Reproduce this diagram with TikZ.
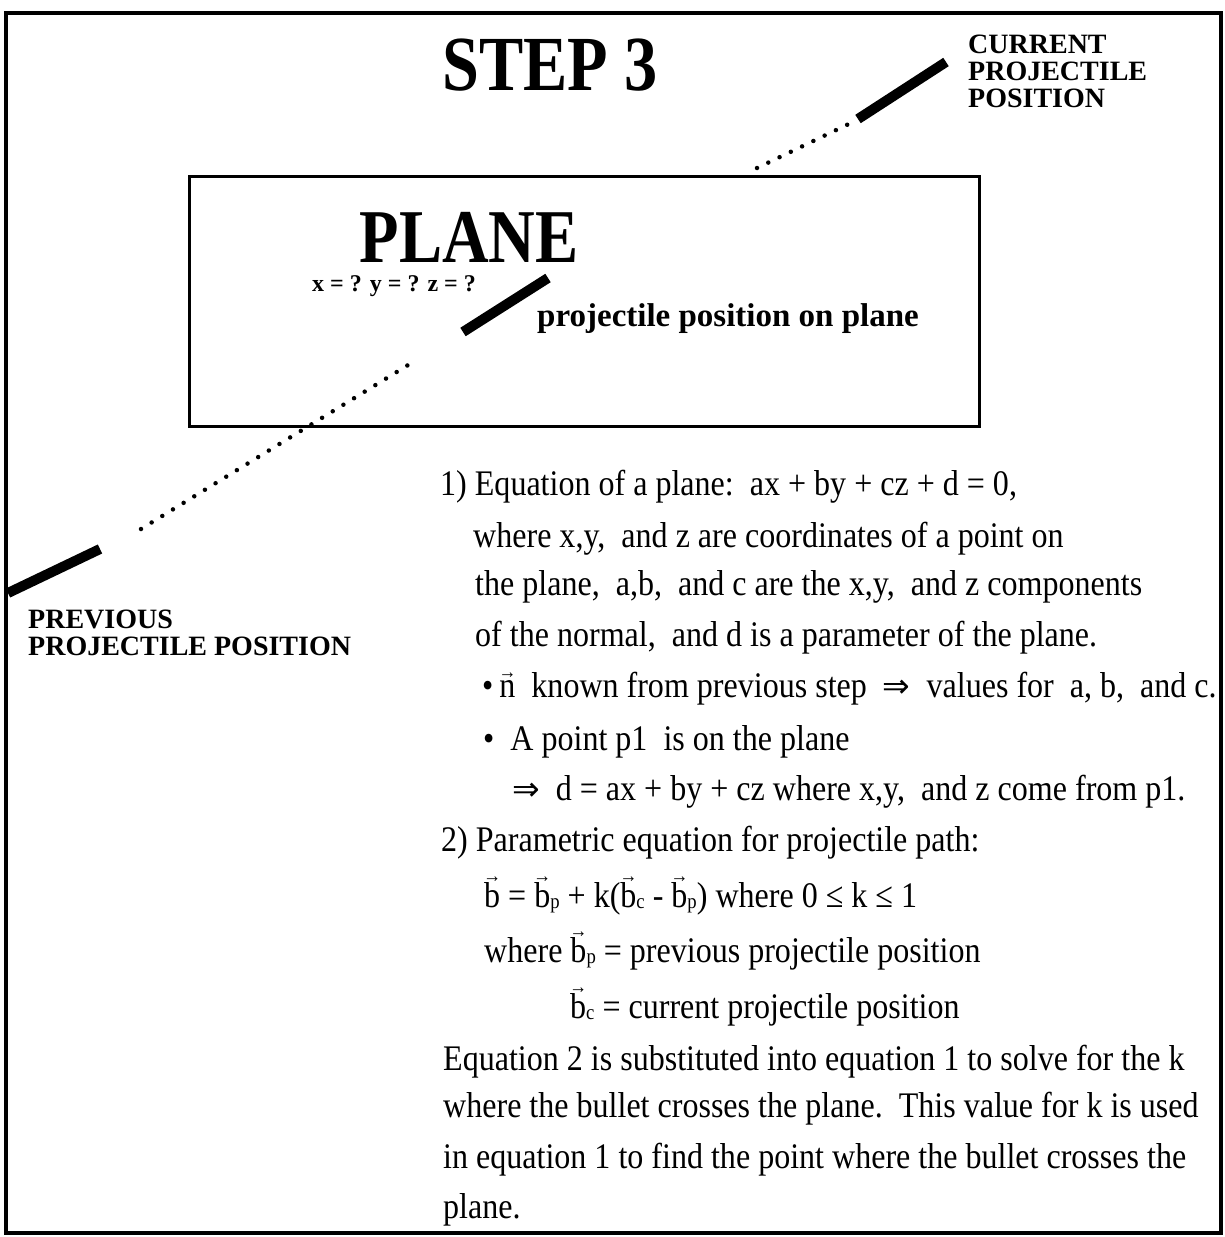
\documentclass[tikz,border=0pt]{standalone}
\usepackage{fontspec}
\setmainfont{Liberation Serif}[FakeStretch=0.89]
\newfontfamily\headfont{Liberation Serif}[FakeStretch=0.85]
\newfontfamily\labfont{Liberation Serif}
\newfontfamily\symfont{DejaVu Sans}
\usetikzlibrary{positioning}
\newcommand{\vecb}[2][25pt]{\ooalign{#2\cr\hidewidth\raisebox{#1}{\fontsize{20}{20}\selectfont →}\hidewidth\cr}}
\newcommand{\subl}[1]{\raisebox{-1pt}{\fontsize{21}{21}\selectfont #1}}
\newcommand{\imp}{{\symfont\fontsize{33}{33}\selectfont ⇒}}
\tikzset{
  frame/.style={draw,line width=4pt},
  planebox/.style={draw,line width=3pt,inner sep=0pt},
  head/.style={font=\headfont\bfseries\fontsize{#1}{#1}\selectfont,inner sep=0pt},
  lab/.style={font=\labfont\bfseries\fontsize{28}{27}\selectfont,align=left,inner sep=0pt,anchor=north west},
  note/.style={font=\labfont\bfseries\fontsize{#1}{#1}\selectfont,inner sep=0pt,anchor=base west},
  txt/.style={font=\fontsize{36}{44}\selectfont,inner sep=0pt,anchor=base west},
  bar/.style={line width=10pt},
  trail/.style={line width=4.5pt,line cap=round,dash pattern=on 0pt off 12.5pt},
}
\begin{document}
\begin{tikzpicture}[x=1pt,y=-1pt]
  \useasboundingbox (0,0) rectangle (1225,1237);
  \draw[frame] (6,13) rectangle (1221,1233);
  \node[planebox,minimum width=790pt,minimum height=250pt,anchor=north west] (plane) at (188,175) {};

  \node[head=78] (step) at (550,65) {STEP 3};
  \node[lab] (current) at (968,35) {CURRENT\\PROJECTILE\\POSITION};
  \node[lab] (previous) at (28,610) {PREVIOUS\\PROJECTILE POSITION};

  \node[head=76] (title) at (469,237) {PLANE};
  \node[note=24] (xyz) at (312,291) {x = ? y = ? z = ?};
  \node[note=33] (onplane) at (537,326) {projectile position on plane};

  % trajectory
  \coordinate (prevtip) at (8,593);
  \coordinate (prevend) at (100,549);
  \coordinate (lowA) at (141,529);
  \coordinate (lowB) at (413,362);
  \coordinate (hitA) at (463,332);
  \coordinate (hitB) at (548,278);
  \coordinate (upA) at (757,168);
  \coordinate (upB) at (855,121);
  \coordinate (curA) at (858,119);
  \coordinate (curB) at (946,62);
  \draw[bar] (prevtip) -- (prevend);
  \draw[trail] (lowA) -- (lowB);
  \draw[bar] (hitA) -- (hitB);
  \draw[trail] (upA) -- (upB);
  \draw[bar] (curA) -- (curB);

  % explanation
  \node[txt] (l1) at (440,495) {1) Equation of a plane:\ \ ax + by + cz + d = 0,};
  \node[txt] (l2) at (473,547) {where x,y,\ \ and z are coordinates of a point on};
  \node[txt] (l3) at (475,595) {the plane,\ \ a,b,\ \ and c are the x,y,\ \ and z components};
  \node[txt] (l4) at (475,646) {of the normal,\ \ and d is a parameter of the plane.};
  \node[txt] (l5) at (482,697) {•\,\vecb[19pt]{n}\ \ known from previous step\ \ \imp\ \ values for\ \ a,\ b,\ \ and c.};
  \node[txt] (l6) at (483,750) {•\ \ A point p1\ \ is on the plane};
  \node[txt] (l7) at (512,800) {\imp\ \ d = ax + by + cz where x,y,\ \ and z come from p1.};
  \node[txt] (l8) at (441,851) {2) Parametric equation for projectile path:};
  \node[txt] (l9) at (484,907) {\vecb{b} = \vecb{b}\subl{p} + k(\vecb{b}\subl{c} - \vecb{b}\subl{p}) where 0 ≤ k ≤ 1};
  \node[txt] (l10) at (484,962) {where \vecb{b}\subl{p} = previous projectile position};
  \node[txt] (l11) at (570,1018) {\vecb{b}\subl{c} = current projectile position};
  \node[txt] (l12) at (443,1070) {Equation 2 is substituted into equation 1 to solve for the k};
  \node[txt] (l13) at (443,1117) {where the bullet crosses the plane.\ \ This value for k is used};
  \node[txt] (l14) at (443,1168) {in equation 1 to find the point where the bullet crosses the};
  \node[txt] (l15) at (443,1218) {plane.};
\end{tikzpicture}
\end{document}
